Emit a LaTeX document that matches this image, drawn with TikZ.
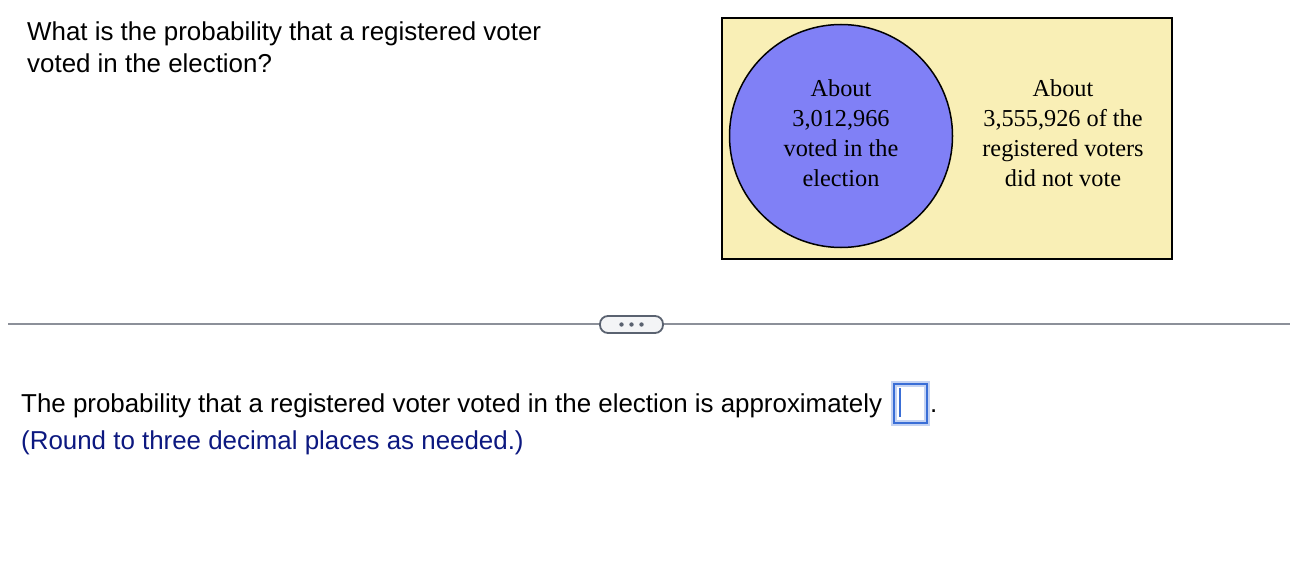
\documentclass[tikz,border=0pt]{standalone}
\usepackage{fontspec}
\setmainfont{Liberation Serif}
\setsansfont{Liberation Sans}
\usepackage{xcolor}
\usepackage{tikz}
\usetikzlibrary{positioning}
\definecolor{vennbg}{RGB}{249,239,182}
\definecolor{votedblue}{RGB}{128,128,246}
\definecolor{hintnavy}{RGB}{12,24,128}
\definecolor{rulegray}{RGB}{140,144,153}
\definecolor{btnedge}{RGB}{90,98,112}
\definecolor{btnfill}{RGB}{243,244,246}
\definecolor{boxblue}{RGB}{58,110,214}

\begin{document}
\begin{tikzpicture}[
    x=1pt, y=-1pt,
    qtext/.style={font=\sffamily\fontsize{25.9}{32}\selectfont, anchor=base west, inner sep=0pt},
    venntext/.style={font=\rmfamily\fontsize{24.3}{30}\selectfont, align=center, inner sep=0pt},
    dotsbtn/.style={rectangle, draw=btnedge, fill=btnfill, line width=1.8pt, rounded corners=8pt, minimum width=63pt, minimum height=17pt, inner sep=0pt},
    ansbox/.style={rectangle, draw=boxblue, line width=2pt, minimum width=33pt, minimum height=39pt, inner sep=0pt}
]
    \useasboundingbox (0,0) rectangle (1290,586);

    % Question
    \node[qtext] (q1) at (27,41) {What is the probability that a registered voter};
    \node[qtext] (q2) at (27,73) {voted in the election?};

    % Venn diagram
    \node[rectangle, draw, line width=2pt, fill=vennbg, minimum width=450pt, minimum height=240pt, inner sep=0pt] (universe) at (946.5,138.5) {};
    \node[circle, draw, line width=1.5pt, fill=votedblue, minimum size=223pt, inner sep=0pt] (voted) at (841,136) {};
    \node[venntext] (votedtext) at (841,133) {About\\ 3,012,966\\ voted in the\\ election};
    \node[venntext] (notvotedtext) at (1063,133) {About\\ 3,555,926 of the\\ registered voters\\ did not vote};

    % Separator
    \coordinate (sepL) at (8,324);
    \coordinate (sepR) at (1290,324);
    \draw[rulegray, line width=1.3pt] (sepL) -- (sepR);
    \node[dotsbtn] (more) at (631.5,324.5) {};
    \foreach \dx in {-10,0,10}
        \fill[btnedge] ([xshift=\dx pt]more.center) circle (2.2);

    % Answer
    \node[qtext] (answer) at (21,412) {The probability that a registered voter voted in the election is approximately};
    \node[ansbox, draw=boxblue!30, line width=6pt] (boxglow) at (910,403) {};
    \node[ansbox] (ansbox) at (910,403) {};
    \draw[boxblue, line width=1.3pt] ([xshift=-10pt, yshift=15pt]ansbox.center) -- ([xshift=-10pt, yshift=-14pt]ansbox.center);
    \node[qtext] (period) at (930,412) {.};
    \node[qtext, text=hintnavy] (hint) at (21,449) {(Round to three decimal places as needed.)};

\end{tikzpicture}
\end{document}
